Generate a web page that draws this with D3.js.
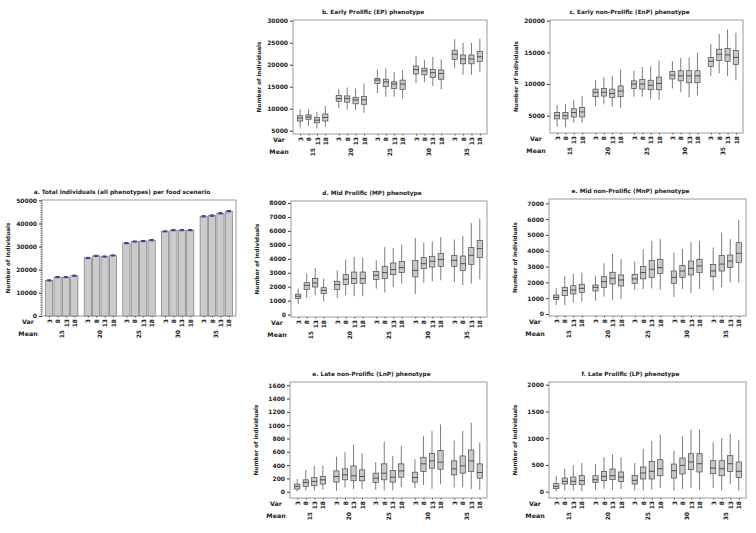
<!DOCTYPE html>
<html><head><meta charset="utf-8">
<script src="https://cdn.jsdelivr.net/npm/d3@7/dist/d3.min.js"></script>
<style>
body{margin:0;background:#fff;}
text{font-family:"DejaVu Sans",Verdana,sans-serif;font-weight:bold;fill:#222;}
</style></head>
<body>
<svg id="chart" width="756" height="533"></svg>
<script>
// ---------- DATA ----------
const meanLabels = ["15","20","25","30","35"];
const varLabels = ["3","8","13","18"];

// Panel a: total individuals (bar heights) and error half-widths
const totalValues = [15400,16800,16800,17400, 25100,26000,25700,26200, 31500,32200,32400,32800, 36600,37100,37100,37100, 43100,43400,44400,45300];
const totalErr = [250,250,250,250, 250,250,250,250, 250,250,250,250, 250,250,250,250, 300,300,300,300];

// Box plots: [low whisker, Q1, median, Q3, high whisker]
const epBoxes = [
 [5700,7200,7900,8400,9900],[6100,7600,8100,8600,9900],[5500,6800,7400,8000,9300],[5900,7200,8000,8800,10600],
 [10100,11700,12300,13000,14400],[9800,11500,12300,12900,14800],[9700,11100,12000,12600,14600],[9100,11000,12000,12800,15700],
 [13500,15700,16500,16900,18900],[12700,15000,16100,16700,19200],[12700,14600,15600,16100,18300],[12300,14400,15600,16500,18800],
 [15800,17900,18900,19700,22000],[16000,17700,18600,19200,21100],[15200,17100,18200,18900,21800],[14400,16700,18000,18800,21200],
 [19200,21200,22400,23300,25800],[17700,20200,21300,22200,25000],[17700,20200,21300,22200,25000],[18300,20700,21800,23000,25900]
];
const enpBoxes = [
 [3300,4500,5000,5500,6700],[3200,4500,5000,5500,6800],[3900,4800,5500,6100,7500],[3900,4800,5600,6300,8100],
 [6500,8000,8700,9200,10600],[6800,8100,8700,9300,11100],[6400,7900,8500,9200,11300],[6200,8000,8900,9700,12300],
 [8000,9300,10000,10500,12100],[8000,9200,10000,10700,12700],[7600,9100,9800,10600,12800],[7500,9100,10100,11100,13700],
 [9300,10800,11400,12000,13600],[8700,10500,11300,12100,14100],[7900,10200,11300,12100,14200],[8200,10200,11300,12100,14900],
 [11300,12800,13600,14200,16300],[11700,13700,14700,15500,17900],[11300,13600,14600,15600,18600],[10600,13100,14200,15300,18100]
];
const mpBoxes = [
 [740,1150,1310,1460,1860],[1190,1810,2100,2290,2940],[1380,1980,2270,2580,3340],[950,1500,1740,1930,2580],
 [1190,1810,2150,2390,3170],[1380,2150,2530,2860,3940],[1310,2220,2580,3050,4130],[1310,2220,2580,3050,4080],
 [1860,2510,2820,3100,3890],[1580,2580,3010,3460,4840],[1980,2860,3220,3700,4770],[2220,3010,3370,3820,5010],
 [1460,2700,3170,3890,5490],[2290,3290,3650,4080,5160],[2390,3410,3820,4180,5250],[2460,3460,3940,4370,5560],
 [2340,3460,3890,4250,5390],[2100,3170,3650,4200,5630],[2220,3600,4250,4800,6560],[2530,4080,4730,5320,6870]
];
const mnpBoxes = [
 [570,930,1050,1200,1620],[570,1160,1480,1690,2410],[720,1270,1520,1790,2530],[780,1370,1620,1880,2620],
 [840,1460,1690,1840,2410],[1100,1690,2050,2360,3210],[890,1900,2260,2640,3800],[930,1770,2150,2470,3460],
 [1520,1940,2220,2510,3310],[1560,2220,2620,3000,4090],[1620,2320,2830,3380,4620],[1520,2570,2930,3460,4750],
 [1080,1940,2320,2720,3880],[1580,2320,2720,3060,4110],[1310,2470,2890,3350,4540],[1580,2620,3040,3460,4620],
 [1480,2360,2720,3140,4200],[1690,2720,3160,3690,5150],[2000,2950,3350,3730,4730],[2000,3250,3840,4510,5950]
];
const lnpBoxes = [
 [5,40,80,115,194],[20,80,140,179,329],[20,90,155,214,389],[30,115,179,229,394],
 [15,145,229,314,528],[65,179,254,344,593],[40,165,239,389,703],[40,165,229,329,578],
 [30,140,204,279,444],[20,179,279,419,753],[20,145,219,319,538],[70,219,314,419,688],
 [55,145,214,294,489],[105,304,419,518,837],[45,354,464,578,912],[115,339,444,618,1012],
 [65,254,344,464,768],[65,279,389,538,912],[40,304,464,628,1037],[30,204,289,419,738]
];
const lpBoxes = [
 [0,56,100,150,299],[25,143,193,255,430],[25,131,193,274,492],[6,131,206,299,536],
 [37,174,224,299,517],[56,206,287,380,642],[37,224,299,424,692],[50,193,274,368,642],
 [25,143,212,305,536],[25,237,349,461,804],[37,237,380,567,953],[69,299,430,598,1065],
 [19,255,393,517,766],[50,330,492,629,1034],[69,411,555,710,1159],[37,368,523,710,1159],
 [69,336,442,579,922],[25,299,430,579,1003],[143,380,523,673,1084],[25,268,380,555,972]
];

const ticksA = [0,10000,20000,30000,40000,50000];
const ticksEP = [5000,10000,15000,20000,25000,30000];
const ticksEnP = [5000,10000,15000,20000];
const ticksMP = [0,1000,2000,3000,4000,5000,6000,7000,8000];
const ticksMnP = [0,1000,2000,3000,4000,5000,6000,7000];
const ticksLnP = [0,200,400,600,800,1000,1200,1400,1600];
const ticksLP = [0,500,1000,1500,2000];

// ---------- LAYOUT ----------
const panels = [
 {type:"bar", title:"a. Total individuals (all phenotypes) per food scenario", x:42, y:200, w:194, h:116, dom:[0,50150], ticks:ticksA, minor:true},
 {type:"box", data:epBoxes, title:"b. Early Prolific (EP) phenotype", x:293, y:20, w:194, h:114, dom:[4250,30160], ticks:ticksEP},
 {type:"box", data:enpBoxes, title:"c. Early non-Prolific (EnP) phenotype", x:550, y:20, w:193, h:113, dom:[2270,20110], ticks:ticksEnP},
 {type:"box", data:mpBoxes, title:"d. Mid Prolific (MP) phenotype", x:291, y:201, w:196, h:116, dom:[-172,8143], ticks:ticksMP},
 {type:"box", data:mnpBoxes, title:"e. Mid non-Prolific (MnP) phenotype", x:549, y:199, w:197, h:117, dom:[-126,7272], ticks:ticksMnP},
 {type:"box", data:lnpBoxes, title:"e. Late non-Prolific (LnP) phenotype", x:290, y:382, w:197, h:116, dom:[-94,1649], ticks:ticksLnP},
 {type:"box", data:lpBoxes, title:"f. Late Prolific (LP) phenotype", x:549, y:382, w:197, h:116, dom:[-118,2050], ticks:ticksLP}
];

const GAP = 4.6;
const pos = [];
meanLabels.forEach((m,g)=>varLabels.forEach((v,i)=>pos.push(i + g*GAP)));

const svg = d3.select("#chart");

panels.forEach(p => {
  const g = svg.append("g").attr("transform",`translate(${p.x},${p.y})`);
  const x = d3.scaleLinear().domain([-0.85, 3 + 4*GAP + 0.85]).range([0,p.w]);
  const y = d3.scaleLinear().domain(p.dom).range([p.h,0]);
  const step = x(1)-x(0);

  // y axis
  if (p.minor) {
    const minor = d3.range(0,50001,1000);
    g.append("g").call(d3.axisLeft(y).tickValues(minor).tickSize(1.5).tickFormat(""))
      .call(s=>s.select(".domain").remove())
      .selectAll("line").attr("stroke","#555");
  }
  const ya = g.append("g").call(d3.axisLeft(y).tickValues(p.ticks).tickSize(3).tickPadding(2).tickFormat(d3.format("d")));
  ya.select(".domain").remove();
  ya.selectAll("line").attr("stroke","#333");
  ya.selectAll("text").style("font-size","6px").style("font-family","DejaVu Sans").style("font-weight","bold").attr("fill","#222");

  // frame
  g.append("rect").attr("x",0).attr("y",0).attr("width",p.w).attr("height",p.h)
    .attr("fill","none").attr("stroke","#9a9a9a").attr("stroke-width",1);

  // x axis (Var labels)
  const xa = g.append("g").attr("transform",`translate(0,${p.h})`)
    .call(d3.axisBottom(x).tickValues(pos).tickSize(1.5).tickFormat((d,i)=>varLabels[i%4]));
  xa.select(".domain").remove();
  xa.selectAll("line").attr("stroke","#555");
  xa.selectAll("text").attr("transform","rotate(-90)").attr("x",-3).attr("y",0).attr("dy","0.35em")
    .attr("text-anchor","end").style("font-size","6px").style("font-family","DejaVu Sans").style("font-weight","bold").attr("fill","#222");

  // Mean labels
  g.selectAll(".meanlab").data(meanLabels).join("text")
    .attr("transform",(d,i)=>`translate(${x(1.5+i*GAP)},${p.h+14}) rotate(-90)`)
    .attr("dy","0.35em").attr("text-anchor","end").style("font-size","6px").text(d=>d);

  g.append("text").attr("x",-14).attr("y",p.h+6).attr("dy","0.35em").attr("text-anchor","middle").style("font-size","6.3px").text("Var");
  g.append("text").attr("x",-14).attr("y",p.h+18).attr("dy","0.35em").attr("text-anchor","middle").style("font-size","6.3px").text("Mean");

  // y title
  g.append("text").attr("transform",`translate(-32,${p.h/2}) rotate(-90)`).attr("text-anchor","middle")
    .style("font-size","5.7px").text("Number of individuals");
  // title
  g.append("text").attr("x",p.w/2-17).attr("y",-6).attr("text-anchor","middle").style("font-size","5.8px").text(p.title);

  if (p.type==="bar") {
    const bw = step*0.86;
    g.selectAll(".bar").data(totalValues).join("rect")
      .attr("x",(d,i)=>x(pos[i])-bw/2).attr("width",bw)
      .attr("y",d=>y(d)).attr("height",d=>y(0)-y(d))
      .attr("fill","#cbcbcb").attr("stroke","#6a6a6a").attr("stroke-width",0.6);
    const eb = g.selectAll(".eb").data(totalValues).join("g");
    eb.append("line").attr("x1",(d,i)=>x(pos[i])).attr("x2",(d,i)=>x(pos[i]))
      .attr("y1",(d,i)=>y(d-totalErr[i])).attr("y2",(d,i)=>y(d+totalErr[i]))
      .attr("stroke","#2a2a9c").attr("stroke-width",1);
    [1,-1].forEach(s=>{
      eb.append("line").attr("x1",(d,i)=>x(pos[i])-2.2).attr("x2",(d,i)=>x(pos[i])+2.2)
        .attr("y1",(d,i)=>y(d+s*totalErr[i])).attr("y2",(d,i)=>y(d+s*totalErr[i]))
        .attr("stroke","#2a2a9c").attr("stroke-width",0.9);
    });
  } else {
    const bw = step*0.62;
    const bx = g.selectAll(".box").data(p.data).join("g");
    bx.append("line").attr("x1",(d,i)=>x(pos[i])).attr("x2",(d,i)=>x(pos[i]))
      .attr("y1",d=>y(d[0])).attr("y2",d=>y(d[4])).attr("stroke","#6e6e6e").attr("stroke-width",0.9);
    bx.append("rect").attr("x",(d,i)=>x(pos[i])-bw/2).attr("width",bw)
      .attr("y",d=>y(d[3])).attr("height",d=>y(d[1])-y(d[3]))
      .attr("fill","#c8c8c8").attr("stroke","#4a4a4a").attr("stroke-width",0.7);
    bx.append("line").attr("x1",(d,i)=>x(pos[i])-bw/2).attr("x2",(d,i)=>x(pos[i])+bw/2)
      .attr("y1",d=>y(d[2])).attr("y2",d=>y(d[2])).attr("stroke","#333").attr("stroke-width",0.8);
  }
});
</script>
</body></html>
